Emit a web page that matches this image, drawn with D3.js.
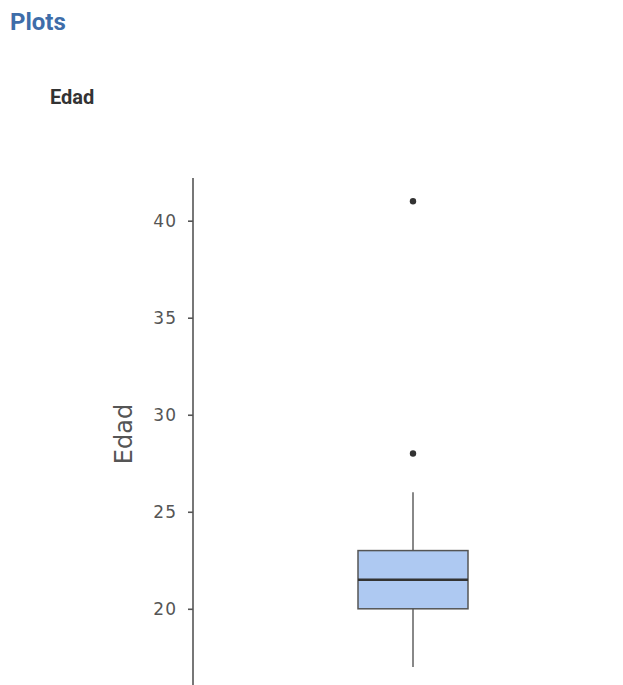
<!DOCTYPE html>
<html>
<head>
<meta charset="utf-8">
<script src="https://cdn.jsdelivr.net/npm/d3@7"></script>
<style>
  body { margin: 0; background: #fff; overflow: hidden; }
  svg { display: block; }
</style>
</head>
<body>
<script>
// box summary for Edad
const groups = ["Edad"];
const whiskerLow = [17];
const q1 = [20];
const median = [21.5];
const q3 = [23];
const whiskerHigh = [26];
const outliers = [28, 41];
const yTicks = [20, 25, 30, 35, 40];

const width = 623, height = 685;

const svg = d3.select("body").append("svg")
  .attr("width", width)
  .attr("height", height);

svg.append("text")
  .attr("x", 10).attr("y", 30)
  .attr("font-family", "Roboto, sans-serif")
  .attr("font-weight", "bold")
  .attr("font-size", 24)
  .attr("fill", "#3e6da9")
  .text("Plots");

svg.append("text")
  .attr("x", 50).attr("y", 104)
  .attr("font-family", "Roboto, sans-serif")
  .attr("font-weight", "bold")
  .attr("font-size", 20)
  .attr("fill", "#333")
  .text("Edad");

const y = d3.scaleLinear()
  .domain([15.3, 42.2])
  .range([700, 178]);

const x = d3.scaleBand()
  .domain(groups)
  .range([193, 633]);

// y axis
const axis = svg.append("g")
  .attr("transform", "translate(193,0)")
  .call(d3.axisLeft(y).tickValues(yTicks).tickSize(5).tickPadding(11));

axis.select(".domain")
  .attr("stroke", "#555")
  .attr("stroke-width", 1.6)
  .attr("d", `M0,${y.range()[1]}V${y.range()[0]}`);
axis.selectAll(".tick line").attr("stroke", "#555").attr("stroke-width", 1.6);
axis.selectAll(".tick text")
  .attr("font-family", "DejaVu Sans, sans-serif")
  .attr("font-size", 17)
  .attr("letter-spacing", 1)
  .attr("fill", "#555");

svg.append("text")
  .attr("transform", `translate(132,434) rotate(-90)`)
  .attr("text-anchor", "middle")
  .attr("font-family", "DejaVu Sans, sans-serif")
  .attr("font-size", 24)
  .attr("fill", "#555")
  .text("Edad");

// box
const boxW = 110;
groups.forEach((g, i) => {
  const cx = x(g) + x.bandwidth() / 2;
  const gBox = svg.append("g");
  gBox.append("line")
    .attr("x1", cx).attr("x2", cx)
    .attr("y1", y(whiskerLow[i])).attr("y2", y(whiskerHigh[i]))
    .attr("stroke", "#888").attr("stroke-width", 2);
  gBox.append("rect")
    .attr("x", cx - boxW / 2)
    .attr("y", y(q3[i]))
    .attr("width", boxW)
    .attr("height", y(q1[i]) - y(q3[i]))
    .attr("fill", "#aec9f2")
    .attr("stroke", "#555")
    .attr("stroke-width", 1.5);
  gBox.append("line")
    .attr("x1", cx - boxW / 2).attr("x2", cx + boxW / 2)
    .attr("y1", y(median[i])).attr("y2", y(median[i]))
    .attr("stroke", "#333").attr("stroke-width", 2.5);
  gBox.selectAll("circle")
    .data(outliers)
    .enter().append("circle")
    .attr("cx", cx)
    .attr("cy", d => y(d))
    .attr("r", 3.2)
    .attr("fill", "#333");
});
</script>
</body>
</html>
